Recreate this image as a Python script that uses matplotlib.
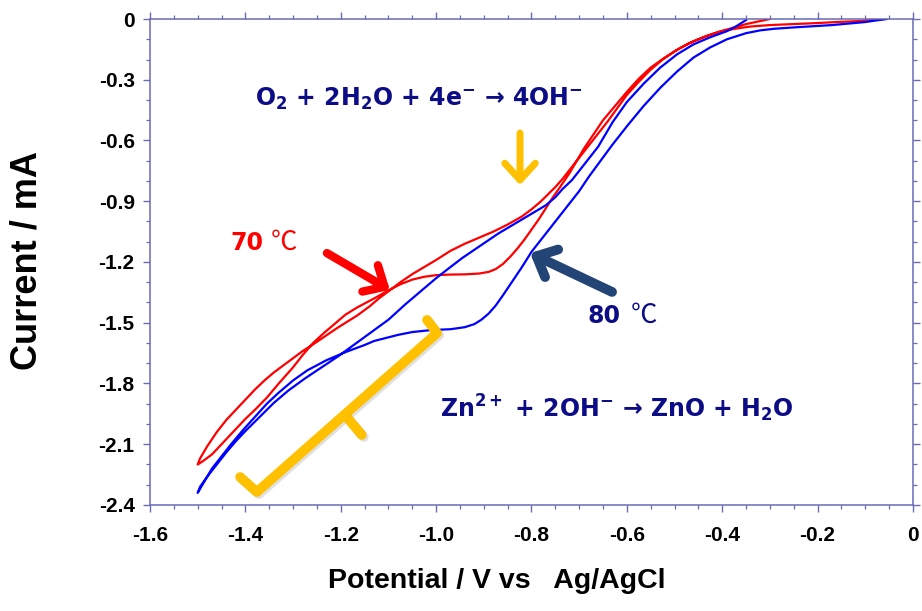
import matplotlib
matplotlib.use("Agg")
import matplotlib.pyplot as plt
import matplotlib.patheffects as pe
import numpy as np

plt.rcParams['mathtext.fontset'] = 'dejavusans'

# --- CV data (potential V vs Ag/AgCl, current mA) ---
# 70 C, cathodic sweep then return sweep
red_cath_v = [-0.06, -0.085, -0.11, -0.16, -0.20, -0.25, -0.30, -0.34, -0.37, -0.40,
              -0.43, -0.46, -0.49, -0.52, -0.55, -0.575, -0.60, -0.625, -0.65, -0.67,
              -0.69, -0.705, -0.72, -0.74, -0.755, -0.77, -0.785, -0.80, -0.815, -0.83,
              -0.845, -0.86, -0.875, -0.89, -0.91, -0.94, -0.97, -1.00, -1.025, -1.05,
              -1.075, -1.10, -1.13, -1.166, -1.19, -1.21, -1.235, -1.258, -1.28, -1.30,
              -1.33, -1.355, -1.38, -1.40, -1.426, -1.45, -1.47, -1.49, -1.50]
red_cath_i = [0.0, -0.005, -0.01, -0.015, -0.02, -0.025, -0.03, -0.037, -0.047, -0.06,
              -0.082, -0.11, -0.145, -0.19, -0.24, -0.295, -0.36, -0.43, -0.50, -0.57,
              -0.64, -0.70, -0.76, -0.83, -0.88, -0.935, -0.99, -1.04, -1.09, -1.135,
              -1.175, -1.21, -1.235, -1.249, -1.257, -1.261, -1.262, -1.265, -1.273, -1.287,
              -1.31, -1.34, -1.38, -1.425, -1.46, -1.50, -1.55, -1.60, -1.66, -1.72,
              -1.80, -1.87, -1.93, -1.975, -2.04, -2.10, -2.15, -2.185, -2.20]
red_anod_v = [-1.50, -1.495, -1.48, -1.46, -1.44, -1.42, -1.40, -1.38, -1.36, -1.34,
              -1.32, -1.30, -1.28, -1.26, -1.235, -1.21, -1.19, -1.166, -1.14, -1.12,
              -1.10, -1.075, -1.05, -1.025, -1.00, -0.97, -0.94, -0.91, -0.88, -0.85,
              -0.82, -0.80, -0.78, -0.765, -0.75, -0.735, -0.72, -0.70, -0.68, -0.66,
              -0.64, -0.62, -0.60, -0.575, -0.55, -0.525, -0.50, -0.47, -0.44, -0.41,
              -0.38, -0.35, -0.32, -0.30]
red_anod_i = [-2.20, -2.17, -2.11, -2.04, -1.98, -1.93, -1.88, -1.83, -1.785, -1.745,
              -1.71, -1.675, -1.64, -1.61, -1.57, -1.53, -1.50, -1.465, -1.42, -1.38,
              -1.345, -1.30, -1.26, -1.225, -1.19, -1.145, -1.11, -1.08, -1.05, -1.015,
              -0.975, -0.94, -0.90, -0.865, -0.83, -0.79, -0.745, -0.685, -0.625, -0.565,
              -0.505, -0.44, -0.375, -0.31, -0.25, -0.20, -0.16, -0.12, -0.09, -0.065,
              -0.045, -0.025, -0.01, 0.0]

# 80 C, cathodic sweep then return sweep
blue_cath_v = [-0.055, -0.08, -0.10, -0.17, -0.24, -0.29, -0.32, -0.35, -0.39, -0.425,
               -0.46, -0.495, -0.53, -0.565, -0.60, -0.63, -0.657, -0.68, -0.70, -0.725,
               -0.75, -0.775, -0.80, -0.82, -0.84, -0.86, -0.875, -0.89, -0.905, -0.92,
               -0.94, -0.97, -1.01, -1.05, -1.08, -1.10, -1.13, -1.15, -1.19, -1.23,
               -1.27, -1.30, -1.33, -1.355, -1.38, -1.405, -1.43, -1.45, -1.47, -1.485,
               -1.50]
blue_cath_i = [0.0, -0.008, -0.015, -0.03, -0.04, -0.048, -0.056, -0.07, -0.10, -0.14,
               -0.19, -0.26, -0.34, -0.43, -0.53, -0.62, -0.706, -0.78, -0.85, -0.925,
               -1.00, -1.075, -1.15, -1.225, -1.295, -1.365, -1.415, -1.455, -1.485, -1.507,
               -1.522, -1.532, -1.536, -1.546, -1.56, -1.572, -1.59, -1.61, -1.645, -1.685,
               -1.735, -1.785, -1.845, -1.90, -1.965, -2.03, -2.10, -2.16, -2.22, -2.28,
               -2.34]
blue_anod_v = [-1.50, -1.495, -1.48, -1.46, -1.44, -1.42, -1.40, -1.37, -1.34, -1.31,
               -1.275, -1.24, -1.205, -1.17, -1.135, -1.10, -1.065, -1.03, -1.00, -0.97,
               -0.945, -0.92, -0.895, -0.87, -0.845, -0.82, -0.795, -0.77, -0.75, -0.735,
               -0.715, -0.70, -0.68, -0.66, -0.645, -0.63, -0.615, -0.60, -0.565, -0.53,
               -0.495, -0.46, -0.425, -0.39, -0.37, -0.35]
blue_anod_i = [-2.34, -2.31, -2.26, -2.20, -2.14, -2.085, -2.035, -1.965, -1.895, -1.835,
               -1.775, -1.72, -1.665, -1.605, -1.545, -1.485, -1.41, -1.34, -1.28, -1.225,
               -1.18, -1.14, -1.10, -1.06, -1.025, -0.99, -0.955, -0.92, -0.88, -0.84,
               -0.795, -0.75, -0.69, -0.63, -0.57, -0.51, -0.46, -0.41, -0.32, -0.24,
               -0.175, -0.125, -0.09, -0.06, -0.035, -0.005]

x_ticks = [-1.6, -1.4, -1.2, -1.0, -0.8, -0.6, -0.4, -0.2, 0.0]
x_tick_labels = ['-1.6', '-1.4', '-1.2', '-1.0', '-0.8', '-0.6', '-0.4', '-0.2', '0']
y_ticks = [0.0, -0.3, -0.6, -0.9, -1.2, -1.5, -1.8, -2.1, -2.4]
y_tick_labels = ['0', '-0.3', '-0.6', '-0.9', '-1.2', '-1.5', '-1.8', '-2.1', '-2.4']

NAVY = '#0c0c86'
SPINE = '#6b6bb5'
GOLD = '#ffc000'

fig = plt.figure(figsize=(9.22, 6.11), dpi=100)
ax = fig.add_axes([0.1627, 0.1735, 0.8275, 0.7954])

# curves (each scan drawn as one loop)
ax.plot(red_cath_v + red_anod_v, red_cath_i + red_anod_i, color='#ff0000', lw=1.6)
ax.plot(blue_cath_v + blue_anod_v, blue_cath_i + blue_anod_i, color='#0000ff', lw=1.6)

ax.set_xlim(-1.6, 0)
ax.set_ylim(-2.4, 0)
ax.set_xticks(x_ticks)
ax.set_xticklabels(x_tick_labels)
ax.set_yticks(y_ticks)
ax.set_yticklabels(y_tick_labels)
ax.set_xticks(np.arange(-1.6, 0.001, 0.05), minor=True)
ax.set_yticks(np.arange(-2.4, 0.001, 0.1), minor=True)

for s in ax.spines.values():
    s.set_color(SPINE)
    s.set_linewidth(1.1)
ax.tick_params(which='both', direction='out', color=SPINE, top=True, right=True,
               labeltop=False, labelright=False)
ax.tick_params(which='major', length=5, width=1.0)
ax.tick_params(which='minor', length=3, width=0.9)
ax.tick_params(axis='x', pad=10)
ax.tick_params(axis='y', pad=6)
for lab in ax.get_xticklabels() + ax.get_yticklabels():
    lab.set_fontfamily('Liberation Sans')
    lab.set_fontweight('bold')
    lab.set_fontsize(15)

fig.text(27 / 922, 1 - 261 / 611, 'Current / mA', rotation=90, ha='center', va='center',
         fontsize=26, fontweight='bold', family='Liberation Sans')
fig.text(497 / 922, 1 - 581 / 611, 'Potential / V vs   Ag/AgCl', ha='center', va='center',
         fontsize=20.5, fontweight='bold', family='Liberation Sans')

# reaction equations
ax.text(-1.380, -0.43, r'O$_\mathbf{2}$ + 2H$_\mathbf{2}$O + 4e$^\mathbf{-}$ → 4OH$^\mathbf{-}$',
        color=NAVY, fontsize=17, fontweight='bold', family='DejaVu Sans', va='baseline')
ax.text(-0.992, -1.965, r'Zn$^\mathbf{2+}$ + 2OH$^\mathbf{-}$ → ZnO + H$_\mathbf{2}$O',
        color=NAVY, fontsize=17, fontweight='bold', family='DejaVu Sans', va='baseline')

# temperature labels
ax.text(-1.432, -1.141, '70', color='#ff0000', fontsize=17, fontweight='bold',
        family='DejaVu Sans', va='baseline')
ax.text(-1.347, -1.141, '℃', color='#ff0000', fontsize=19, family='Noto Sans CJK SC',
        va='baseline')
ax.text(-0.682, -1.501, '80', color=NAVY, fontsize=17, fontweight='bold',
        family='DejaVu Sans', va='baseline')
ax.text(-0.592, -1.501, '℃', color=NAVY, fontsize=19, family='Noto Sans CJK SC',
        va='baseline')

# arrows
def chevron_arrow(tail, head, color, lw, hl, hw):
    ax.annotate('', xy=head, xytext=tail,
                arrowprops=dict(arrowstyle=f'->,head_length={hl},head_width={hw}',
                                color=color, lw=lw, mutation_scale=20,
                                shrinkA=0, shrinkB=0, capstyle='round',
                                joinstyle='round'))

chevron_arrow((-1.229, -1.156), (-1.097, -1.338), '#ff0000', 6, 0.6, 0.55)
chevron_arrow((-0.631, -1.348), (-0.803, -1.156), '#234576', 7, 0.6, 0.55)
chevron_arrow((-0.824, -0.563), (-0.824, -0.82), GOLD, 5, 0.6, 0.55)

# bracket over the ZnO region
shadow = [pe.SimpleLineShadow(offset=(1.5, -1.5), alpha=0.12), pe.Normal()]
ax.plot([-1.411, -1.376, -0.998, -1.019], [-2.262, -2.336, -1.551, -1.486],
        color=GOLD, lw=7, solid_capstyle='round', solid_joinstyle='round',
        path_effects=shadow)
ax.plot([-1.191, -1.156], [-1.956, -2.054], color=GOLD, lw=7,
        solid_capstyle='round', path_effects=shadow)

fig.savefig('out.png', dpi=100)
